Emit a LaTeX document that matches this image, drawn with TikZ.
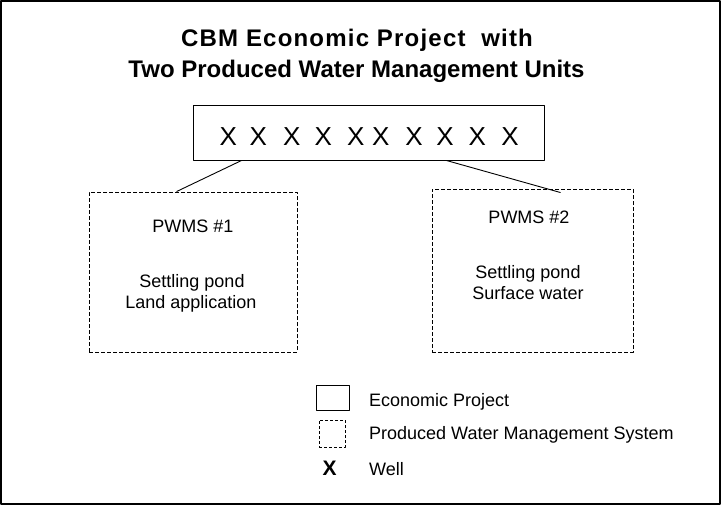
\documentclass[tikz,border=0pt]{standalone}
\usepackage{fontspec}
\setmainfont{Liberation Sans}
\usepackage{tikz}
\usetikzlibrary{calc, positioning}

\begin{document}
\begin{tikzpicture}[x=1pt, y=-1pt, line join=bevel,
        txt/.style={inner sep=0pt, anchor=base, font=\fontsize{18}{21}\selectfont},
        ttl/.style={inner sep=0pt, anchor=base, font=\bfseries\fontsize{24}{28}\selectfont},
        well/.style={inner sep=0pt, anchor=base, font=\fontsize{26}{30}\selectfont},
        projbox/.style={draw, rectangle, line width=1pt, inner sep=0pt},
        pwmsbox/.style={draw, rectangle, line width=.9pt, dash pattern=on 4pt off 2pt, inner sep=0pt}]
        \useasboundingbox (0,0) rectangle (722,520);
        \draw[line width=1.5pt] (0.75,0.75) rectangle (720,504);
        % title
        \node[ttl] (title1) at (357,46) {\addfontfeatures{LetterSpace=5}CBM Economic Project\ \ with};
        \node[ttl] (title2) at (356.5,77) {Two Produced Water Management Units};
        % economic project with its wells
        \node[projbox, minimum width=351pt, minimum height=55pt] (proj) at (368.5,132.5) {};
        \foreach \x [count=\i] in {228.3,258.3,291.7,323.3,355.7,380.7,414,445,477.3,510}
          \node[well] (w\i) at (\x,145) {X};
        % water management systems
        \node[pwmsbox, minimum width=208pt, minimum height=160pt] (pwms1) at (193,272) {};
        \node[pwmsbox, minimum width=201pt, minimum height=163pt] (pwms2) at (532.5,270.5) {};
        \node[txt] (p1name) at (193,232) {PWMS \#1};
        \node[txt] (p1a) at (192,287) {Settling pond};
        \node[txt] (p1b) at (191,308) {Land application};
        \node[txt] (p2name) at (529,223) {PWMS \#2};
        \node[txt] (p2a) at (528,278) {Settling pond};
        \node[txt] (p2b) at (528,299) {Surface water};
        \draw[line width=.9pt] ([xshift=49pt]proj.south west) -- ([xshift=88pt]pwms1.north west);
        \draw[line width=.9pt] ([xshift=254pt]proj.south west) -- ([xshift=129pt,yshift=-4pt]pwms2.north west);
        % legend
        \node[projbox, line width=.9pt, minimum width=33pt, minimum height=25pt] (epkey) at (332.5,397.5) {};
        \node[pwmsbox, line width=.7pt, dash pattern=on 3pt off 2pt, minimum width=26pt, minimum height=27pt] (pwkey) at (332,433.5) {};
        \node[txt, font=\bfseries\fontsize{21}{24}\selectfont] (wellkey) at (329.5,475) {X};
        \node[txt, anchor=base west] (eplbl) at (369,406) {Economic Project};
        \node[txt, anchor=base west] (pwlbl) at (369,439) {Produced Water Management System};
        \node[txt, anchor=base west] (welllbl) at (369,475) {Well};
\end{tikzpicture}
\end{document}
